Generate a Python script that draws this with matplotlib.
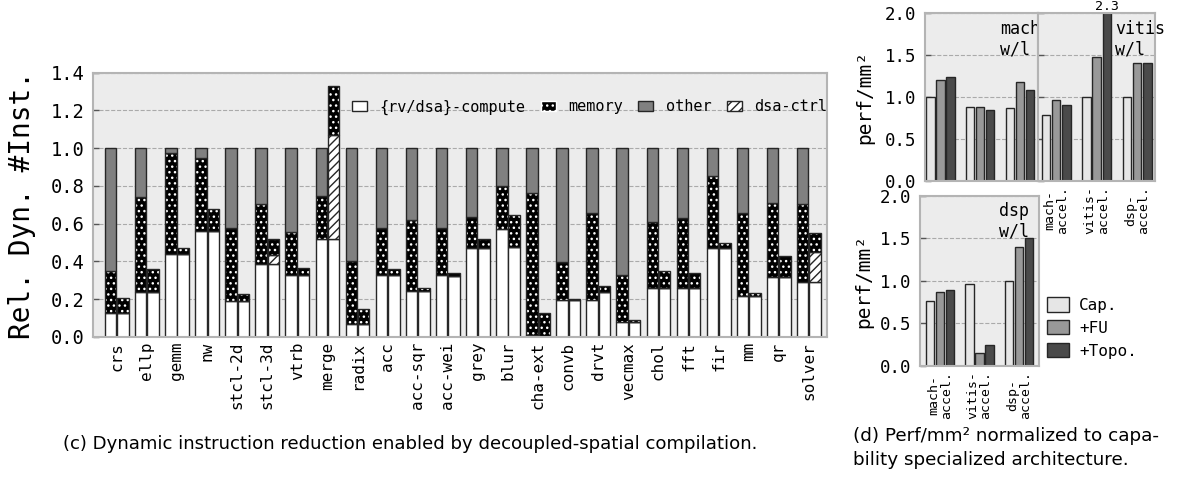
import numpy as np
import matplotlib
matplotlib.use("Agg")
import matplotlib.pyplot as plt
from matplotlib.patches import Patch

plt.rcParams["font.family"] = ["DejaVu Sans Mono"]
plt.rcParams["hatch.linewidth"] = 1.0

# ---- (c) dynamic instruction breakdown ----
benches = ["crs", "ellp", "gemm", "nw", "stcl-2d", "stcl-3d", "vtrb", "merge",
           "radix", "acc", "acc-sqr", "acc-wei", "grey", "blur", "cha-ext", "convb",
           "drvt", "vecmax", "chol", "fft", "fir", "mm", "qr", "solver"]
rv_compute = [0.125, 0.24, 0.44, 0.56, 0.19, 0.385, 0.33, 0.52, 0.07, 0.33, 0.245, 0.33,
              0.47, 0.57, 0.01, 0.195, 0.195, 0.08, 0.26, 0.26, 0.47, 0.215, 0.32, 0.29]
rv_memory = [0.225, 0.50, 0.535, 0.39, 0.39, 0.32, 0.225, 0.225, 0.33, 0.25, 0.375, 0.25,
             0.165, 0.23, 0.755, 0.20, 0.46, 0.25, 0.35, 0.37, 0.385, 0.44, 0.39, 0.415]
rv_other = [0.65, 0.26, 0.025, 0.05, 0.42, 0.295, 0.445, 0.255, 0.60, 0.42, 0.38, 0.42,
            0.365, 0.20, 0.235, 0.605, 0.345, 0.67, 0.39, 0.37, 0.145, 0.345, 0.29, 0.295]
dsa_compute = [0.125, 0.24, 0.44, 0.56, 0.19, 0.385, 0.33, 0.52, 0.07, 0.33, 0.245, 0.325,
               0.47, 0.475, 0.005, 0.195, 0.24, 0.08, 0.26, 0.26, 0.47, 0.215, 0.32, 0.29]
dsa_ctrl = [0, 0, 0, 0, 0, 0.05, 0, 0.55, 0, 0, 0, 0,
            0, 0, 0, 0, 0, 0, 0, 0, 0, 0, 0, 0.16]
dsa_memory = [0.08, 0.12, 0.03, 0.12, 0.04, 0.085, 0.035, 0.26, 0.08, 0.03, 0.012, 0.013,
              0.05, 0.17, 0.12, 0.007, 0.03, 0.008, 0.09, 0.08, 0.03, 0.017, 0.11, 0.10]

# ---- (d) perf/mm2 ----
archs = ["mach-\naccel.", "vitis-\naccel.", "dsp-\naccel."]
mach_cap = [1.0, 0.88, 0.87]
mach_fu = [1.20, 0.88, 1.175]
mach_topo = [1.24, 0.845, 1.09]
vitis_cap = [0.79, 1.0, 1.0]
vitis_fu = [0.965, 1.48, 1.41]
vitis_topo = [0.91, 2.3, 1.41]
dsp_cap = [0.76, 0.965, 1.0]
dsp_fu = [0.865, 0.155, 1.40]
dsp_topo = [0.895, 0.245, 1.50]

BG = "#ececec"
SPINE = "#b4b4b4"
EDGE = "#262626"
MEM_HATCH = "..."


def style_ax(ax):
    ax.set_facecolor(BG)
    for s in ax.spines.values():
        s.set_color(SPINE)
        s.set_linewidth(1.5)
    ax.yaxis.grid(True, ls="--", color="#aaaaaa", lw=0.8)
    ax.set_axisbelow(True)
    ax.tick_params(axis="y", direction="in", length=4, width=1, color="#555555", pad=6)
    ax.tick_params(axis="x", length=0)


W, H = 1178, 487
fig = plt.figure(figsize=(W / 100, H / 100), dpi=100)


def px_axes(x0, y0, x1, y1):
    return fig.add_axes([x0 / W, 1 - y1 / H, (x1 - x0) / W, (y1 - y0) / H])


# left chart
ax = px_axes(92.7, 72.7, 827, 337)
style_ax(ax)
x = np.arange(len(benches))
bw, off = 0.38, 0.205
xr, xd = x - off, x + off
rvc, rvm, rvo = np.array(rv_compute), np.array(rv_memory), np.array(rv_other)
dc, dctl, dm = np.array(dsa_compute), np.array(dsa_ctrl), np.array(dsa_memory)

kw = dict(width=bw, edgecolor=EDGE, linewidth=1.0)
ax.bar(xr, rvc, color="white", **kw)
ax.bar(xr, rvm, bottom=rvc, color="black", edgecolor="white", hatch=MEM_HATCH, width=bw, linewidth=0)
ax.bar(xr, rvm, bottom=rvc, fill=False, **kw)
ax.bar(xr, rvo, bottom=rvc + rvm, color="#808080", **kw)

ax.bar(xd, dc, color="white", **kw)
ax.bar(xd, dctl, bottom=dc, color="white", hatch="////", **kw)
ax.bar(xd, dm, bottom=dc + dctl, color="black", edgecolor="white", hatch=MEM_HATCH, width=bw, linewidth=0)
ax.bar(xd, dm, bottom=dc + dctl, fill=False, **kw)

ax.set_xlim(-0.80, len(benches) - 0.40)
ax.set_ylim(0, 1.4)
ax.set_yticks(np.arange(0, 1.41, 0.2))
ax.set_yticklabels([f"{v:.1f}" for v in np.arange(0, 1.41, 0.2)], fontsize=13.5)
ax.set_xticks(x)
ax.set_xticklabels(benches, rotation=90, fontsize=11.5)
ax.set_ylabel("Rel. Dyn. #Inst.", fontsize=20)
ax.yaxis.set_label_coords(-0.077, 0.5)

handles = [Patch(facecolor="white", edgecolor=EDGE),
           Patch(facecolor="black", edgecolor="white", hatch=MEM_HATCH),
           Patch(facecolor="#808080", edgecolor=EDGE),
           Patch(facecolor="white", edgecolor=EDGE, hatch="////")]
ax.legend(handles, ["{rv/dsa}-compute", "memory", "other", "dsa-ctrl"], ncol=4,
          loc="center right", bbox_to_anchor=(1.0, 0.87), frameon=False, fontsize=11,
          handlelength=1.0, handletextpad=0.8, columnspacing=1.0, borderaxespad=0,
          borderpad=0)

# right panels
cols = ["#e6e6e6", "#999999", "#4a4a4a"]
names = ["Cap.", "+FU", "+Topo."]
g = np.arange(len(archs))
pw, pp = 0.21, 0.252


def panel(ax, cap, fu, topo, label, xlim):
    style_ax(ax)
    for k, vals in enumerate([cap, fu, topo]):
        ax.bar(g + (k - 1) * pp, vals, width=pw, color=cols[k], edgecolor=EDGE,
               linewidth=1.0, label=names[k])
    ax.set_ylim(0, 2.0)
    ax.set_xlim(*xlim)
    ax.set_yticks([0, 0.5, 1.0, 1.5, 2.0])
    ax.set_yticklabels(["0.0", "0.5", "1.0", "1.5", "2.0"], fontsize=12.5)
    ax.set_xticks(g)
    ax.set_xticklabels(archs, rotation=90, fontsize=9.5, linespacing=1.0)
    ax.text(0.66, 0.96, label, transform=ax.transAxes, ha="left", va="top",
            fontsize=12, linespacing=1.15, clip_on=False)


ax1 = px_axes(925, 13.3, 1038.3, 181)
panel(ax1, mach_cap, mach_fu, mach_topo, "mach\nw/l", (-0.39, 2.46))
ax1.set_xticklabels([])
ax1.set_ylabel("perf/mm²", fontsize=14)
ax1.yaxis.set_label_coords(-0.45, 0.5)

ax2 = px_axes(1038.3, 13.3, 1155, 181)
panel(ax2, vitis_cap, vitis_fu, vitis_topo, "vitis\nw/l", (-0.44, 2.44))
ax2.set_yticklabels([])
ax2.text(g[1] + pp, 2.0, f"{vitis_topo[1]:.1f}", ha="center", va="bottom",
         fontsize=9.5, clip_on=False)

ax3 = px_axes(920, 195.7, 1039, 365.7)
panel(ax3, dsp_cap, dsp_fu, dsp_topo, "dsp\nw/l", (-0.51, 2.51))
ax3.set_ylabel("perf/mm²", fontsize=14)
ax3.yaxis.set_label_coords(-0.39, 0.5)
ax3.legend(loc="center left", bbox_to_anchor=(1.0, 0.222), frameon=False, fontsize=11.5,
           handlelength=1.4, handleheight=1.0, handletextpad=0.6, labelspacing=0.45,
           borderaxespad=0, borderpad=0.5)

# captions
cap_font = ["DejaVu Sans"]
fig.text(410 / W, 1 - 444 / H,
         "(c) Dynamic instruction reduction enabled by decoupled-spatial compilation.",
         ha="center", va="center", fontsize=13.1, family=cap_font)
fig.text(853 / W, 1 - 427 / H,
         "(d) Perf/mm² normalized to capa-\nbility specialized architecture.",
         ha="left", va="top", fontsize=13.2, family=cap_font, linespacing=1.4)

fig.savefig("out.png", dpi=100)
